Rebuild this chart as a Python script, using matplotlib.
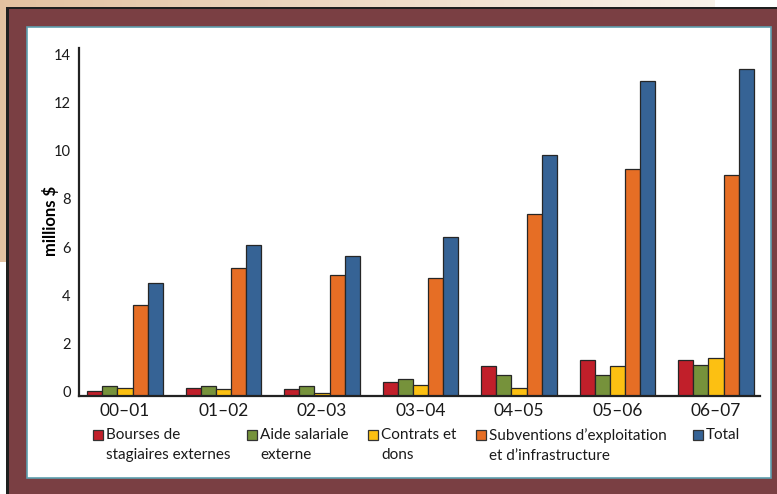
import numpy as np
import matplotlib.pyplot as plt
from matplotlib.patches import Rectangle
from matplotlib.transforms import ScaledTranslation

plt.rcParams['font.family'] = ['Lato', 'DejaVu Sans']

# Données (millions $)
annees = ['00–01', '01–02', '02–03', '03–04', '04–05', '05–06', '06–07']
bourses = [0.20, 0.33, 0.27, 0.57, 1.23, 1.47, 1.47]
aide = [0.39, 0.40, 0.40, 0.71, 0.85, 0.85, 1.26]
contrats = [0.31, 0.27, 0.10, 0.43, 0.31, 1.22, 1.58]
subventions = [3.75, 5.29, 5.00, 4.87, 7.55, 9.41, 9.16]
total = [4.67, 6.27, 5.78, 6.58, 9.99, 13.06, 13.56]

series = [bourses, aide, contrats, subventions, total]
noms = ['Bourses de\nstagiaires externes', 'Aide salariale\nexterne', 'Contrats et\ndons',
        'Subventions d’exploitation\net d’infrastructure', 'Total']
couleurs = ['#c11f2a', '#76923b', '#fcc012', '#e66e25', '#366395']

W, H = 777, 494
fig = plt.figure(figsize=(W / 100, H / 100), dpi=100)

# Fond : dégradé beige, cadre bordeaux, panneau blanc
bg = fig.add_axes([0, 0, 1, 1], zorder=-5)
bg.set_xlim(0, W)
bg.set_ylim(H, 0)
bg.axis('off')
c0 = np.array([0.89, 0.76, 0.63])
c1 = np.array([0.975, 0.95, 0.915])
t = np.linspace(0, 1, 200)[None, :, None]
grad = c0 + (c1 - c0) * t
bg.imshow(grad, extent=(0, 715, 262, 0), aspect='auto', zorder=0)
bg.add_patch(Rectangle((7, 8), W, H, facecolor='#7a3f43', edgecolor='none', zorder=1))
bg.add_patch(Rectangle((6, 7), 3, H, facecolor='#1f1f1f', edgecolor='none', zorder=2))
bg.add_patch(Rectangle((6, 7), W, 2.5, facecolor='#1f1f1f', edgecolor='none', zorder=2))
bg.add_patch(Rectangle((27, 27), 744, 451, facecolor='white', edgecolor='#5e9fae', lw=1.2, zorder=3))

# Graphique
ax = fig.add_axes([79 / W, 98.3 / H, (760 - 79) / W, (395.7 - 48) / H])
ax.patch.set_alpha(0)
x = np.arange(len(annees))
w = 0.154
for i, (vals, col) in enumerate(zip(series, couleurs)):
    ax.bar(x + (i - 2) * w, vals, width=w, color=col, edgecolor='#262626', linewidth=0.9)

ax.set_xlim(-0.467, 6.447)
ax.set_ylim(0, 14.43)
ax.set_yticks(range(0, 15, 2))
ax.set_xticks(x)
ax.set_xticklabels(annees, fontsize=12.5, color='#1a1a1a')
ax.tick_params(axis='y', length=0, pad=6, labelsize=10.5, labelcolor='#1a1a1a')
ax.tick_params(axis='x', length=0, pad=5)
for lab in ax.get_yticklabels():
    lab.set_transform(lab.get_transform() + ScaledTranslation(0, 0.04, fig.dpi_scale_trans))
for s in ['top', 'right']:
    ax.spines[s].set_visible(False)
for s in ['left', 'bottom']:
    ax.spines[s].set_linewidth(1.6)
    ax.spines[s].set_color('#222222')

fig.text(51 / W, 1 - 221 / H, 'millions $', rotation=90, fontsize=12, fontweight='bold',
         ha='center', va='center')

# Légende
leg_x = [93, 247, 368, 476, 693]
for lx, nom, col in zip(leg_x, noms, couleurs):
    fig.patches.append(Rectangle((lx / W, 1 - 440 / H), 10 / W, 10 / H, transform=fig.transFigure,
                                 facecolor=col, edgecolor='#333333', lw=0.9))
    fig.text((lx + 13) / W, 1 - 428 / H, nom, fontsize=11, ha='left', va='top',
             linespacing=1.55, color='#1a1a1a')

fig.savefig('out.png', dpi=100)
